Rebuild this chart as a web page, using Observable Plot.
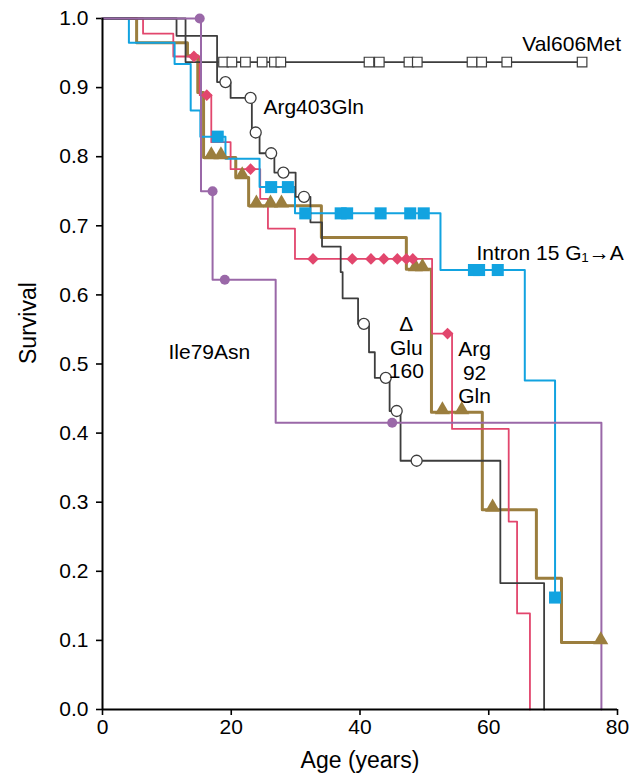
<!DOCTYPE html>
<html>
<head>
<meta charset="utf-8">
<script src="https://cdn.jsdelivr.net/npm/d3@7"></script>
<script src="https://cdn.jsdelivr.net/npm/@observablehq/plot@0.6"></script>
<style>
  html, body { margin: 0; padding: 0; background: #fff; }
  #chart { width: 637px; height: 781px; }
</style>
</head>
<body>
<div id="chart"></div>
<script>
// ---------- data ----------
const xTicks = [0, 20, 40, 60, 80];
const yTicks = [0, 0.1, 0.2, 0.3, 0.4, 0.5, 0.6, 0.7, 0.8, 0.9, 1.0];

// Val606Met
const val606Age  = [0, 12.9, 74.5];
const val606Surv = [1, 0.937, 0.937];
const val606CensAge  = [18.8, 20.1, 22.2, 24.8, 26.7, 27.7, 41.4, 43.0, 47.6, 48.9, 57.4, 58.9, 62.8, 74.5];
const val606CensSurv = [0.937, 0.937, 0.937, 0.937, 0.937, 0.937, 0.937, 0.937, 0.937, 0.937, 0.937, 0.937, 0.937, 0.937];

// Arg403Gln
const arg403Age  = [0, 11.5, 17.8, 19.9, 23.2, 24.4, 26.7, 30.0, 32.3, 34.1, 37.0, 37.3, 39.7, 41.4, 42.3, 44.6, 46.3, 61.8, 68.6];
const arg403Surv = [1, 0.975, 0.908, 0.885, 0.835, 0.805, 0.777, 0.742, 0.705, 0.670, 0.633, 0.595, 0.558, 0.517, 0.480, 0.432, 0.360, 0.183, 0];
const arg403CensAge  = [19.1, 23.0, 23.8, 26.2, 28.1, 31.3, 40.6, 44.0, 45.7, 48.8];
const arg403CensSurv = [0.908, 0.885, 0.835, 0.805, 0.777, 0.742, 0.558, 0.480, 0.432, 0.360];

// Intron 15 G1->A
const intronAge  = [0, 4.1, 11.2, 13.7, 15.2, 19.1, 24.4, 29.9, 52.5, 65.6, 70.3];
const intronSurv = [1, 0.965, 0.934, 0.867, 0.829, 0.797, 0.756, 0.718, 0.636, 0.476, 0.162];
const intronCensAge  = [17.9, 26.2, 28.8, 31.5, 37.0, 38.0, 43.2, 47.8, 49.9, 57.7, 58.5, 61.4, 70.3];
const intronCensSurv = [0.829, 0.756, 0.756, 0.718, 0.718, 0.718, 0.718, 0.718, 0.718, 0.636, 0.636, 0.636, 0.162];

// Arg92Gln
const arg92Age  = [0, 6.3, 11.0, 15.1, 16.9, 19.9, 24.5, 25.7, 29.9, 51.2, 54.3, 63.1, 64.4, 66.4];
const arg92Surv = [1, 0.978, 0.945, 0.889, 0.821, 0.782, 0.739, 0.696, 0.652, 0.544, 0.406, 0.272, 0.139, 0];
const arg92CensAge  = [14.2, 16.2, 23.0, 32.7, 38.8, 41.7, 43.7, 45.8, 47.2, 48.2, 53.6];
const arg92CensSurv = [0.945, 0.889, 0.782, 0.652, 0.652, 0.652, 0.652, 0.652, 0.652, 0.652, 0.544];

// ΔGlu160
const glu160Age  = [0, 5.3, 13.2, 14.8, 15.7, 20.7, 22.7, 34.0, 47.2, 51.1, 59.0, 67.4, 71.3, 77.4];
const glu160Surv = [1, 0.965, 0.946, 0.893, 0.799, 0.770, 0.729, 0.683, 0.637, 0.430, 0.289, 0.190, 0.097, 0.097];
const glu160CensAge  = [16.9, 18.4, 21.7, 23.9, 26.1, 27.8, 48.6, 49.7, 52.8, 55.8, 60.6, 77.4];
const glu160CensSurv = [0.799, 0.799, 0.770, 0.729, 0.729, 0.729, 0.637, 0.637, 0.430, 0.430, 0.289, 0.097];

// Ile79Asn
const ile79Age  = [0, 15.3, 17.1, 26.9, 77.5];
const ile79Surv = [1, 0.75, 0.622, 0.415, 0];
const ile79CensAge  = [15.1, 17.1, 19.0, 45.0];
const ile79CensSurv = [1.0, 0.75, 0.622, 0.415];

// labels
const startLabels     = ["Val606Met", "Arg403Gln", "Intron 15 G\u2081\u2192A", "Ile79Asn"];
const startLabelAge   = [65.2, 25.0, 58.1, 10.25];
const startLabelSurv  = [0.962, 0.871, 0.660, 0.517];
const stackLabels     = ["\u0394\nGlu\n160", "Arg\n92\nGln"];
const stackLabelAge   = [47.2, 57.8];
const stackLabelSurv  = [0.524, 0.488];

// ---------- build tables ----------
const zip = (a, s) => a.map((t, i) => ({age: t, surv: s[i]}));

const C = {
  gray: "#3d3d3d",
  pink: "#e2466d",
  cyan: "#12a3e0",
  olive: "#9b7e3e",
  purple: "#9a68a8"
};

const stepOpts = (color, w) => ({x: "age", y: "surv", curve: "step-after", stroke: color, strokeWidth: w});

const chart = Plot.plot({
  width: 637,
  height: 781,
  marginLeft: 102,
  marginRight: 20,
  marginTop: 18,
  marginBottom: 72,
  style: {fontFamily: "'Liberation Sans', Arial, sans-serif", fontSize: "21px", background: "#fff", overflow: "visible", color: "#000"},
  x: {domain: [0, 80]},
  y: {domain: [0, 1]},
  marks: [
    Plot.axisX({ticks: xTicks, tickSize: 6, tickPadding: 4, strokeWidth: 1.6, label: null, fontSize: 21, fill: "#000"}),
    Plot.axisY({ticks: yTicks, tickSize: 6, tickPadding: 8, strokeWidth: 1.6, tickFormat: d3.format(".1f"), label: null, fontSize: 21, fill: "#000"}),
    // curves
    Plot.line(zip(glu160Age, glu160Surv), stepOpts(C.olive, 3)),
    Plot.line(zip(arg92Age, arg92Surv), stepOpts(C.pink, 1.8)),
    Plot.line(zip(intronAge, intronSurv), stepOpts(C.cyan, 2)),
    Plot.line(zip(arg403Age, arg403Surv), stepOpts(C.gray, 1.8)),
    Plot.line(zip(val606Age, val606Surv), stepOpts(C.gray, 1.8)),
    Plot.line(zip(ile79Age, ile79Surv), stepOpts(C.purple, 2)),
    // axis lines
    Plot.ruleX([0], {stroke: "#000", strokeWidth: 2}),
    Plot.ruleY([0], {stroke: "#000", strokeWidth: 2.2}),
    // markers
    Plot.dot(zip(glu160CensAge, glu160CensSurv), {x: "age", y: "surv", symbol: "triangle", r: 5.6, fill: C.olive, stroke: "none", dy: -2.5}),
    Plot.dot(zip(arg92CensAge, arg92CensSurv), {x: "age", y: "surv", symbol: "diamond2", r: 5.3, fill: C.pink, stroke: "none"}),
    Plot.dot(zip(intronCensAge, intronCensSurv), {x: "age", y: "surv", symbol: "square", r: 6.8, fill: C.cyan, stroke: "none"}),
    Plot.dot(zip(arg403CensAge, arg403CensSurv), {x: "age", y: "surv", symbol: "circle", r: 5.5, fill: "#fff", stroke: C.gray, strokeWidth: 1.3}),
    Plot.dot(zip(val606CensAge, val606CensSurv), {x: "age", y: "surv", symbol: "square", r: 5.4, fill: "#fff", stroke: C.gray, strokeWidth: 1.2}),
    Plot.dot(zip(ile79CensAge, ile79CensSurv), {x: "age", y: "surv", symbol: "circle", r: 5, fill: C.purple, stroke: "none"}),
    // labels
    Plot.text(startLabels.map((t, i) => ({t, age: startLabelAge[i], surv: startLabelSurv[i]})),
      {x: "age", y: "surv", text: "t", textAnchor: "start", fill: "#000", fontSize: 21}),
    Plot.text(stackLabels.map((t, i) => ({t, age: stackLabelAge[i], surv: stackLabelSurv[i]})),
      {x: "age", y: "surv", text: "t", textAnchor: "middle", fill: "#000", fontSize: 21, lineHeight: 1.12}),
    // axis titles
    Plot.text(["Age (years)"], {frameAnchor: "bottom", dy: 58, fontSize: 23, fill: "#000"}),
    Plot.text(["Survival"], {frameAnchor: "left", dx: -74, rotate: -90, fontSize: 23, fill: "#000"})
  ]
});

document.getElementById("chart").appendChild(chart);
</script>
</body>
</html>
